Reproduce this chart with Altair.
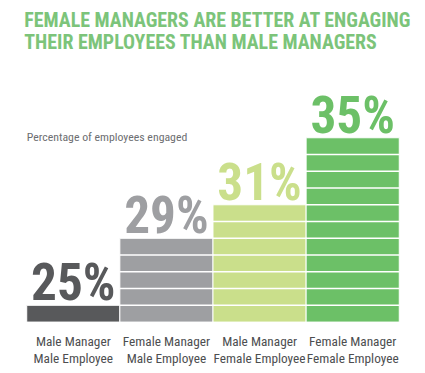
import altair as alt
import pandas as pd

categories = ["Male Manager\nMale Employee", "Female Manager\nMale Employee",
              "Male Manager\nFemale Employee", "Female Manager\nFemale Employee"]
values = [25, 29, 31, 35]
labels = ["25%", "29%", "31%", "35%"]
colors = ["#58595b", "#9e9fa2", "#cadf8b", "#6cc067"]
title_lines = ["FEMALE MANAGERS ARE BETTER AT ENGAGING", "THEIR EMPLOYEES THAN MALE MANAGERS"]
subtitle = "Percentage of employees engaged"
baseline = 24

FONT = "Roboto Condensed"

df = pd.DataFrame({"cat": categories, "value": values, "label": labels, "color": colors,
                   "base": [baseline] * 4})

rows = []
for c, v in zip(categories, values):
    for k in range(baseline + 1, v):
        rows.append({"cat": c, "level": k})
stripes = pd.DataFrame(rows)

xenc = alt.X("cat:N", sort=categories,
             scale=alt.Scale(paddingInner=0, paddingOuter=0),
             axis=alt.Axis(title=None, domain=False, ticks=False, labelAngle=0,
                           labelExpr="split(datum.label, '\\n')",
                           labelFont=FONT, labelFontSize=13.5, labelColor="#4d4e50",
                           labelPadding=13, labelLineHeight=17))
yscale = alt.Scale(domain=[baseline, 39], nice=False, zero=False)

bars = alt.Chart(df).mark_bar(stroke="white", strokeWidth=1).encode(
    x=xenc,
    y=alt.Y("value:Q", scale=yscale, axis=None),
    y2="base:Q",
    color=alt.Color("color:N", scale=None),
)

lines = alt.Chart(stripes).mark_tick(color="white", thickness=1.5, size=95, opacity=1).encode(
    x=alt.X("cat:N", sort=categories),
    y=alt.Y("level:Q", scale=yscale),
)

nums = alt.Chart(df).mark_text(font=FONT, fontSize=52, fontWeight="bold",
                               baseline="alphabetic", dy=-5).encode(
    x=alt.X("cat:N", sort=categories),
    y=alt.Y("value:Q", scale=yscale),
    text="label:N",
    color=alt.Color("color:N", scale=None),
)

sub = alt.Chart(pd.DataFrame({"t": [subtitle], "y": [35.06]})).mark_text(
    font=FONT, fontSize=12, color="#6d6e71", align="left", baseline="middle"
).encode(x=alt.value(0), y=alt.Y("y:Q", scale=yscale), text="t:N")

chart = alt.layer(bars, lines, nums, sub).properties(
    width=378, height=255,
    title=alt.TitleParams(title_lines, anchor="start", font=FONT, fontSize=20.2,
                          fontWeight="bold", color="#7cc47a", lineHeight=22.5, offset=18, dx=-2),
    padding={"left": 16, "top": 0, "right": 5, "bottom": 5},
).configure_view(stroke=None)

chart.save("out.html", embed_options={"renderer": "svg", "actions": False})
